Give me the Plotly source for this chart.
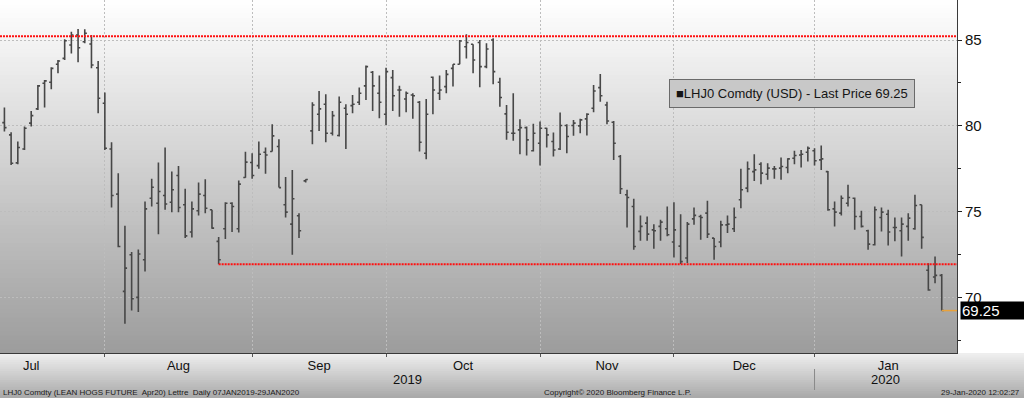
import pandas as pd
import plotly.graph_objects as go

# ---------------- data ----------------
holidays = ["2019-07-04", "2019-09-02", "2019-11-28", "2019-12-25", "2020-01-01"]
calendar = [d.strftime("%Y-%m-%d") for d in
            pd.bdate_range("2019-07-01", "2020-02-03", freq="C", holidays=holidays)]
first_date, last_date = "2019-07-10", "2020-01-29"
dates = calendar[calendar.index(first_date): calendar.index(last_date) + 1]

open_ = [80.30, 80.19, 79.48, 77.85, 78.66, 80.16, 80.99, 82.48, 82.54, 83.59,
         83.93, 84.71, 85.29, 84.90, 84.77, 83.39, 81.32, 78.66, 76.03, 70.37,
         72.50, 70.02, 72.21, 75.79, 75.50, 75.95, 75.56, 77.11, 75.41, 73.82,
         75.06, 75.95, 75.12, 73.28, 74.01, 75.50, 74.01, 77.00, 77.87, 77.69,
         78.47, 78.51, 78.80, 75.41, 74.28, 74.77, 76.80, 79.71, 80.68, 81.26,
         79.57, 79.44, 81.03, 81.18, 81.38, 82.33, 83.12, 81.90, 80.68, 82.81,
         82.09, 81.57, 81.80, 81.38, 78.41, 82.83, 81.90, 82.29, 83.35, 83.59,
         84.61, 84.75, 84.86, 83.45, 85.00, 82.54, 80.70, 79.57, 79.77, 79.90,
         78.55, 78.99, 79.86, 79.09, 78.66, 80.02, 80.02, 80.00, 80.41, 81.03,
         82.23, 81.22, 80.21, 78.22, 75.99, 75.31, 73.86, 74.34, 73.95, 74.15,
         74.01, 73.24, 73.00, 72.31, 74.59, 74.73, 74.92, 73.47, 73.24, 74.24,
         74.01, 75.70, 76.38, 77.34, 77.77, 77.19, 77.50, 77.54, 77.58, 78.12,
         78.31, 78.47, 78.55, 78.02, 77.34, 75.17, 74.92, 75.50, 75.79, 74.73,
         73.90, 73.08, 74.67, 74.86, 74.09, 73.90, 74.15, 74.01, 75.41, 71.60,
         71.20, 71.30]
high = [80.45, 81.07, 79.63, 79.09, 79.96, 80.87, 82.38, 82.67, 83.41, 83.84,
        85.04, 85.48, 85.64, 85.62, 85.29, 83.78, 81.94, 79.05, 77.25, 74.19,
        72.66, 72.80, 75.60, 76.92, 77.87, 78.74, 77.34, 77.67, 76.34, 75.60,
        76.71, 76.90, 75.12, 73.53, 75.56, 75.56, 76.82, 78.50, 78.41, 79.09,
        78.74, 80.10, 79.22, 77.02, 77.44, 74.92, 76.90, 81.38, 82.03, 81.84,
        80.87, 81.71, 81.26, 81.80, 82.23, 83.51, 83.20, 82.93, 83.39, 83.26,
        82.34, 82.00, 81.90, 81.45, 81.57, 82.87, 82.93, 83.26, 83.59, 85.00,
        85.33, 84.75, 85.00, 84.81, 85.10, 82.81, 81.22, 81.90, 80.39, 79.96,
        80.12, 80.25, 79.90, 79.61, 80.78, 80.10, 80.35, 80.41, 80.74, 82.38,
        83.02, 81.41, 80.29, 78.31, 76.28, 75.76, 74.79, 74.73, 74.28, 74.53,
        75.31, 75.56, 74.86, 74.40, 75.25, 74.83, 75.64, 73.47, 74.48, 74.79,
        75.25, 77.50, 77.93, 78.35, 77.89, 77.83, 77.67, 78.16, 78.12, 78.55,
        78.60, 78.80, 78.70, 78.86, 77.38, 75.60, 75.95, 76.57, 75.83, 75.06,
        73.95, 75.31, 75.25, 75.12, 74.67, 74.67, 74.92, 75.99, 75.41, 72.00,
        72.40, 71.38]
low = [80.05, 79.67, 77.73, 77.77, 78.60, 79.96, 80.93, 81.07, 82.13, 83.06,
       83.84, 84.22, 83.70, 84.81, 83.35, 80.74, 78.60, 75.25, 72.93, 68.49,
       69.26, 69.17, 71.53, 75.31, 73.70, 75.12, 74.98, 74.98, 73.47, 73.51,
       74.79, 74.92, 74.01, 71.95, 73.41, 73.82, 73.80, 76.98, 76.92, 77.50,
       77.21, 78.51, 76.41, 74.67, 72.50, 73.47, 76.70, 78.93, 79.71, 79.05,
       79.44, 79.38, 78.66, 80.74, 81.22, 81.51, 80.87, 80.45, 80.06, 80.87,
       80.54, 80.79, 80.41, 78.51, 78.06, 80.68, 81.51, 81.90, 82.29, 83.59,
       83.93, 83.06, 82.25, 83.35, 82.42, 81.12, 79.19, 79.13, 78.35, 78.28,
       78.51, 77.69, 78.74, 78.22, 78.60, 78.41, 79.42, 79.57, 79.44, 80.79,
       81.41, 80.10, 78.02, 76.03, 74.09, 72.79, 73.31, 73.31, 72.85, 73.31,
       73.57, 72.34, 71.96, 72.02, 74.24, 73.37, 73.47, 72.21, 72.93, 73.76,
       73.82, 75.21, 76.14, 76.80, 76.61, 76.86, 76.92, 76.86, 77.25, 77.77,
       77.58, 77.93, 77.69, 77.44, 75.06, 74.15, 74.79, 75.31, 73.95, 74.09,
       72.79, 73.04, 73.86, 73.04, 73.28, 72.40, 73.31, 73.95, 72.85, 70.40,
       70.84, 69.25]
close = [80.20, 79.90, 77.83, 78.74, 79.86, 80.60, 82.33, 82.62, 83.35, 83.78,
         84.96, 85.29, 84.55, 85.39, 83.55, 81.61, 78.70, 75.95, 72.98, 71.72,
         69.94, 72.54, 75.17, 76.43, 76.18, 75.45, 76.28, 75.25, 73.60, 75.17,
         76.03, 75.21, 74.05, 72.21, 75.50, 75.31, 76.61, 77.89, 77.11, 78.35,
         78.31, 79.42, 76.41, 74.98, 75.76, 73.90, 76.88, 81.22, 80.99, 79.57,
         80.60, 81.38, 80.68, 81.26, 81.90, 83.45, 82.33, 81.38, 83.16, 81.76,
         82.09, 81.90, 81.76, 79.05, 80.68, 82.09, 82.09, 83.00, 83.59, 84.94,
         84.86, 83.84, 83.45, 84.48, 83.16, 81.65, 79.63, 79.57, 79.90, 79.19,
         79.57, 79.86, 79.48, 78.60, 80.02, 79.38, 80.16, 80.35, 80.68, 82.03,
         81.76, 80.29, 78.99, 76.34, 75.83, 72.98, 74.15, 73.70, 73.90, 74.40,
         73.66, 73.95, 72.10, 74.28, 74.79, 74.67, 73.70, 72.98, 74.24, 74.28,
         74.67, 76.28, 77.50, 77.44, 77.25, 77.54, 77.50, 77.64, 78.08, 78.28,
         78.35, 78.70, 77.97, 78.08, 75.12, 74.98, 75.79, 75.83, 74.73, 74.15,
         73.12, 75.12, 74.98, 73.82, 74.09, 74.28, 74.63, 75.37, 73.51, 70.45,
         71.30, 69.25]

resistance_level = 85.22
support_level = 71.95
support_start = "2019-08-26"

month_names = ["Jul", "Aug", "Sep", "Oct", "Nov", "Dec", "Jan"]
title_text = "LHJ0 Comdty (USD) - Last Price"
footer_left = "LHJ0 Comdty (LEAN HOGS FUTURE  Apr20) Lettre  Daily 07JAN2019-29JAN2020"
footer_mid = "Copyright\u00a9 2020 Bloomberg Finance L.P."
footer_right = "29-Jan-2020 12:02:27"

# ---------------- geometry helpers ----------------
W, H = 1024, 398
ML, MR, MT, MB = 0, 67, 0, 45
PW, PH = W - ML - MR, H - MT - MB

x = [calendar.index(d) for d in dates]
x_range = [x[0] + 0.34, x[0] + 143.28]
y_range = [66.78, 87.33]

months = [d[:7] for d in calendar]
month_start = []
for i, m in enumerate(months):
    if i == 0 or m != months[i - 1]:
        month_start.append(i)
month_centers = [(month_start[i] + month_start[i + 1]) / 2 for i in range(len(month_names))]
grid_x = month_start[1:len(month_names)]
jan_idx = month_start[len(month_names) - 1]


def py(px):  # pixel offset from top of plot -> paper y
    return 1 - px / PH


FONT = "Liberation Sans, Arial, sans-serif"

fig = go.Figure()

fig.add_trace(go.Ohlc(
    x=x, open=open_, high=high, low=low, close=close,
    increasing=dict(line=dict(color="#474747", width=1.6)),
    decreasing=dict(line=dict(color="#474747", width=1.6)),
    tickwidth=0.32, hoverinfo="skip", showlegend=False))

# last price connector line
fig.add_trace(go.Scatter(
    x=[x[-1], x_range[1]], y=[close[-1], close[-1]], mode="lines",
    line=dict(color="#e9a23b", width=1.5), hoverinfo="skip", showlegend=False))
fig.add_trace(go.Scatter(
    x=[x_range[1] + 0.35], y=[close[-1]], mode="markers",
    marker=dict(symbol="triangle-left", size=9, color="black"),
    cliponaxis=False, hoverinfo="skip", showlegend=False))

shapes = []
# plot-area vertical gradient (each band runs to the bottom so no seams appear)
n = 80
for i in range(n):
    v = int(round(255 - (255 - 156) * (i + 0.5) / n))
    shapes.append(dict(type="rect", xref="paper", yref="paper", x0=0, x1=1,
                       y0=1 - i / n, y1=0, line=dict(width=0),
                       fillcolor=f"rgb({v},{v},{v})", layer="below"))
# label area gradient
nb = 20
for i in range(nb):
    v = int(round(240 - (240 - 168) * (i + 0.5) / nb))
    shapes.append(dict(type="rect", xref="paper", yref="paper", x0=0, x1=W / PW,
                       y0=-(i / nb) * MB / PH, y1=-(MB + 2) / PH,
                       line=dict(width=0), fillcolor=f"rgb({v},{v},{v})", layer="below"))
# red dotted lines
shapes.append(dict(type="line", xref="paper", yref="y", x0=0, x1=1,
                   y0=resistance_level, y1=resistance_level,
                   line=dict(color="#ff1010", width=2, dash="2px,1px"), layer="above"))
shapes.append(dict(type="line", xref="x", yref="y",
                   x0=calendar.index(support_start), x1=x_range[1],
                   y0=support_level, y1=support_level,
                   line=dict(color="#ff1010", width=2, dash="2px,1px"), layer="above"))
# year separator
shapes.append(dict(type="line", xref="x", yref="paper", x0=jan_idx, x1=jan_idx,
                   y0=py(369), y1=py(390), line=dict(color="#8a8a8a", width=1)))

annotations = [
    dict(text="2019", xref="x", yref="paper", x=(x_range[0] + jan_idx) / 2, y=py(379),
         yanchor="middle", showarrow=False, font=dict(family=FONT, size=13, color="#111111")),
    dict(text="2020", xref="x", yref="paper", x=(jan_idx + x_range[1]) / 2, y=py(379),
         yanchor="middle", showarrow=False, font=dict(family=FONT, size=13, color="#111111")),
    dict(text=footer_left, xref="paper", yref="paper", x=1 / PW, y=py(392), xanchor="left",
         yanchor="middle", showarrow=False, font=dict(family=FONT, size=8, color="#1a1a1a")),
    dict(text=footer_mid, xref="paper", yref="paper", x=617 / PW, y=py(392),
         yanchor="middle", showarrow=False, font=dict(family=FONT, size=8, color="#1a1a1a")),
    dict(text=footer_right, xref="paper", yref="paper", x=1022 / PW, y=py(392), xanchor="right",
         yanchor="middle", showarrow=False, font=dict(family=FONT, size=8, color="#1a1a1a")),
    dict(text=f"\u25a0{title_text} {close[-1]:.2f}", xref="paper", yref="paper",
         x=669 / PW, y=py(93), xanchor="left", yanchor="middle", showarrow=False,
         bgcolor="#c8c8c8", bordercolor="#6a6a6a", borderwidth=1, borderpad=6,
         font=dict(family=FONT, size=13, color="#151515")),
    dict(text=f"{close[-1]:.2f}", xref="paper", yref="y", x=1 + 3 / PW, y=close[-1],
         xanchor="left", yanchor="middle", showarrow=False, bgcolor="black",
         width=62, height=15, align="left", borderpad=1,
         font=dict(family=FONT, size=15, color="white")),
]

fig.update_layout(
    width=W, height=H, margin=dict(l=ML, r=MR, t=MT, b=MB),
    paper_bgcolor="white", plot_bgcolor="rgba(0,0,0,0)",
    shapes=shapes, annotations=annotations, showlegend=False,
    xaxis=dict(range=x_range, tickmode="array", tickvals=month_centers, ticktext=month_names,
               ticks="", showgrid=False, zeroline=False, showline=True,
               linecolor="#3a3a3a", linewidth=1, rangeslider=dict(visible=False),
               tickfont=dict(family=FONT, size=13, color="#111111"),
               minor=dict(tickmode="array", tickvals=grid_x, ticks="outside", ticklen=3,
                          tickcolor="#555555", showgrid=True, gridcolor="#bdbdbd",
                          griddash="2px,2px", gridwidth=1)),
    yaxis=dict(side="right", range=y_range, tickmode="linear", tick0=0, dtick=5,
               ticks="outside", ticklen=4, tickcolor="#222222", showline=True,
               linecolor="#3a3a3a", linewidth=1, zeroline=False,
               showgrid=True, gridcolor="#bdbdbd", griddash="2px,2px", gridwidth=1,
               tickfont=dict(family=FONT, size=15, color="#111111"),
               minor=dict(dtick=2.5, ticks="outside", ticklen=3, tickcolor="#222222",
                          showgrid=False)),
)

fig.write_html("out.html", config={"displayModeBar": False},
               post_script="document.body.style.margin='0';document.body.style.overflow='hidden';")
